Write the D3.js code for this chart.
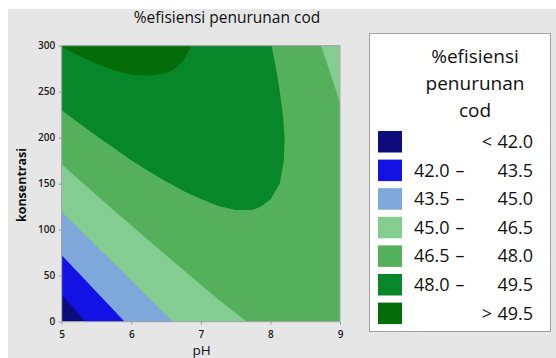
<!DOCTYPE html>
<html>
<head>
<meta charset="utf-8">
<script src="https://cdn.jsdelivr.net/npm/d3@7"></script>
<style>
  html, body { margin: 0; padding: 0; background: #fff; }
  svg { display: block; font-family: "Open Sans", "Noto Sans", sans-serif; }
</style>
</head>
<body>
<svg id="chart" width="556" height="358"></svg>
<script>
// grid
const phValues = [5, 5.25, 5.5, 5.75, 6, 6.25, 6.5, 6.75, 7, 7.25, 7.5, 7.75, 8, 8.25, 8.5, 8.75, 9];
const konsValues = [0, 25, 50, 75, 100, 125, 150, 175, 200, 225, 250, 275, 300];

// %efisiensi penurunan cod, one row per konsentrasi (0 -> 300)
const efisiensi = [
  [40.93, 41.72, 42.44, 43.12, 43.74, 44.31, 44.82, 45.29, 45.69, 46.05, 46.34, 46.59, 46.78, 46.92, 47.00, 47.04, 47.01],
  [41.86, 42.59, 43.27, 43.89, 44.46, 44.98, 45.44, 45.85, 46.21, 46.51, 46.76, 46.95, 47.09, 47.18, 47.21, 47.19, 47.12],
  [42.74, 43.42, 44.05, 44.62, 45.14, 45.61, 46.02, 46.38, 46.69, 46.94, 47.13, 47.28, 47.37, 47.40, 47.39, 47.31, 47.19],
  [43.59, 44.22, 44.80, 45.32, 45.79, 46.20, 46.56, 46.87, 47.13, 47.33, 47.47, 47.56, 47.60, 47.59, 47.52, 47.40, 47.22],
  [44.40, 44.98, 45.50, 45.98, 46.39, 46.76, 47.07, 47.33, 47.53, 47.68, 47.77, 47.81, 47.80, 47.74, 47.62, 47.44, 47.22],
  [45.17, 45.70, 46.18, 46.60, 46.96, 47.28, 47.54, 47.74, 47.89, 47.99, 48.04, 48.03, 47.96, 47.85, 47.67, 47.45, 47.17],
  [45.91, 46.39, 46.81, 47.18, 47.49, 47.76, 47.96, 48.12, 48.22, 48.27, 48.26, 48.20, 48.09, 47.92, 47.70, 47.42, 47.09],
  [46.61, 47.03, 47.40, 47.72, 47.99, 48.20, 48.36, 48.46, 48.51, 48.51, 48.45, 48.34, 48.17, 47.95, 47.68, 47.35, 46.97],
  [47.27, 47.64, 47.96, 48.23, 48.44, 48.60, 48.71, 48.76, 48.76, 48.71, 48.60, 48.43, 48.22, 47.95, 47.62, 47.25, 46.82],
  [47.89, 48.21, 48.48, 48.70, 48.86, 48.97, 49.03, 49.03, 48.98, 48.87, 48.71, 48.50, 48.23, 47.91, 47.53, 47.10, 46.62],
  [48.47, 48.75, 48.97, 49.13, 49.24, 49.30, 49.30, 49.26, 49.15, 48.99, 48.78, 48.52, 48.20, 47.83, 47.40, 46.92, 46.39],
  [49.02, 49.24, 49.41, 49.53, 49.59, 49.59, 49.55, 49.45, 49.29, 49.08, 48.82, 48.51, 48.14, 47.71, 47.24, 46.71, 46.12],
  [49.53, 49.70, 49.82, 49.88, 49.89, 49.85, 49.75, 49.60, 49.39, 49.13, 48.82, 48.45, 48.03, 47.56, 47.03, 46.45, 45.81]
];

const thresholds = [42.0, 43.5, 45.0, 46.5, 48.0, 49.5];
const bandColors = ['#0c0c7c', '#1212e4', '#7ea7da', '#83cd91', '#55b05c', '#07872a', '#046c08'];
const bandLow = ['', '42.0', '43.5', '45.0', '46.5', '48.0', ''];
const bandSign = ['<', '–', '–', '–', '–', '–', '>'];
const bandHigh = ['42.0', '43.5', '45.0', '46.5', '48.0', '49.5', '49.5'];
const xTicks = [5, 6, 7, 8, 9];
const yTicks = [0, 50, 100, 150, 200, 250, 300];

const svg = d3.select('#chart');
const plot = { l: 61.7, r: 340, t: 45.7, b: 321.7 };

// grey panel
svg.append('rect').attr('x', 8).attr('y', 9).attr('width', 548).attr('height', 349).attr('fill', '#e6e6e6');

const x = d3.scaleLinear().domain([5, 9]).range([plot.l, plot.r]);
const y = d3.scaleLinear().domain([0, 300]).range([plot.b, plot.t]);

svg.append('clipPath').attr('id', 'clip').append('rect')
  .attr('x', plot.l).attr('y', plot.t)
  .attr('width', plot.r - plot.l).attr('height', plot.b - plot.t);

// contour bands: d3.contours puts sample i at grid coord i + 0.5
const nx = phValues.length, ny = konsValues.length;
const dPh = phValues[1] - phValues[0], dK = konsValues[1] - konsValues[0];
const bands = d3.contours().size([nx, ny]).thresholds(thresholds)(efisiensi.flat());
const proj = d3.geoTransform({
  point(gx, gy) {
    this.stream.point(x(phValues[0] + (gx - 0.5) * dPh), y(konsValues[0] + (gy - 0.5) * dK));
  }
});
const path = d3.geoPath(proj);

const g = svg.append('g').attr('clip-path', 'url(#clip)');
g.append('rect')
  .attr('x', plot.l).attr('y', plot.t)
  .attr('width', plot.r - plot.l).attr('height', plot.b - plot.t)
  .attr('fill', bandColors[0]);
g.selectAll('path.band').data(bands).enter().append('path')
  .attr('class', 'band')
  .attr('d', path)
  .attr('fill', (d, i) => bandColors[i + 1]);

// frame
svg.append('rect')
  .attr('x', plot.l).attr('y', plot.t)
  .attr('width', plot.r - plot.l).attr('height', plot.b - plot.t)
  .attr('fill', 'none').attr('stroke', '#a8a8a8').attr('stroke-width', 1);

// axes
const xAxis = svg.append('g').attr('transform', `translate(0,${plot.b})`)
  .call(d3.axisBottom(x).tickValues(xTicks).tickSize(3).tickPadding(6).tickFormat(d3.format('d')));
const yAxis = svg.append('g').attr('transform', `translate(${plot.l},0)`)
  .call(d3.axisLeft(y).tickValues(yTicks).tickSize(3).tickPadding(3.5).tickFormat(d3.format('d')));
[xAxis, yAxis].forEach(a => {
  a.select('.domain').remove();
  a.selectAll('line').attr('stroke', '#9a9a9a');
  a.selectAll('text').attr('fill', '#1a1a1a')
    .style('font-size', '10px').style('font-weight', 600)
    .style('font-family', '"Open Sans", sans-serif');
});

// titles
svg.append('text').attr('x', 227).attr('y', 22.5).attr('text-anchor', 'middle')
  .style('font-size', '15.5px').attr('fill', '#111')
  .text('%efisiensi penurunan cod');
svg.append('text').attr('transform', 'translate(26,185) rotate(-90)').attr('text-anchor', 'middle')
  .style('font-size', '12.5px').style('font-weight', 700).attr('fill', '#111')
  .text('konsentrasi');
svg.append('text').attr('x', 201.7).attr('y', 354.8).attr('text-anchor', 'middle')
  .style('font-size', '13.5px').attr('fill', '#111')
  .text('pH');

// legend
const lg = svg.append('g');
lg.append('rect').attr('x', 369.5).attr('y', 33.5).attr('width', 181).attr('height', 298)
  .attr('fill', '#fff').attr('stroke', '#a0a0a0');
lg.selectAll('text.lt').data(['%efisiensi', 'penurunan', 'cod']).enter().append('text')
  .attr('class', 'lt')
  .attr('x', 475).attr('y', (d, i) => 63.3 + i * 26.8)
  .attr('text-anchor', 'middle')
  .style('font-size', '19px').attr('fill', '#111')
  .text(d => d);

const rows = lg.selectAll('g.row').data(bandColors).enter().append('g')
  .attr('class', 'row')
  .attr('transform', (d, i) => `translate(0,${131 + i * 28.6})`);
rows.append('rect').attr('x', 378).attr('y', 0).attr('width', 24).attr('height', 21.5)
  .attr('fill', d => d);
rows.append('text').attr('x', 414).attr('y', 17).style('font-size', '18px').attr('fill', '#111')
  .text((d, i) => bandLow[i]);
rows.append('text').attr('x', (d, i) => bandLow[i] ? 460 : 487).attr('y', 17)
  .attr('text-anchor', 'middle').style('font-size', '18px').attr('fill', '#111')
  .text((d, i) => bandSign[i]);
rows.append('text').attr('x', 533).attr('y', 17).attr('text-anchor', 'end')
  .style('font-size', '18px').attr('fill', '#111')
  .text((d, i) => bandHigh[i]);
</script>
</body>
</html>
